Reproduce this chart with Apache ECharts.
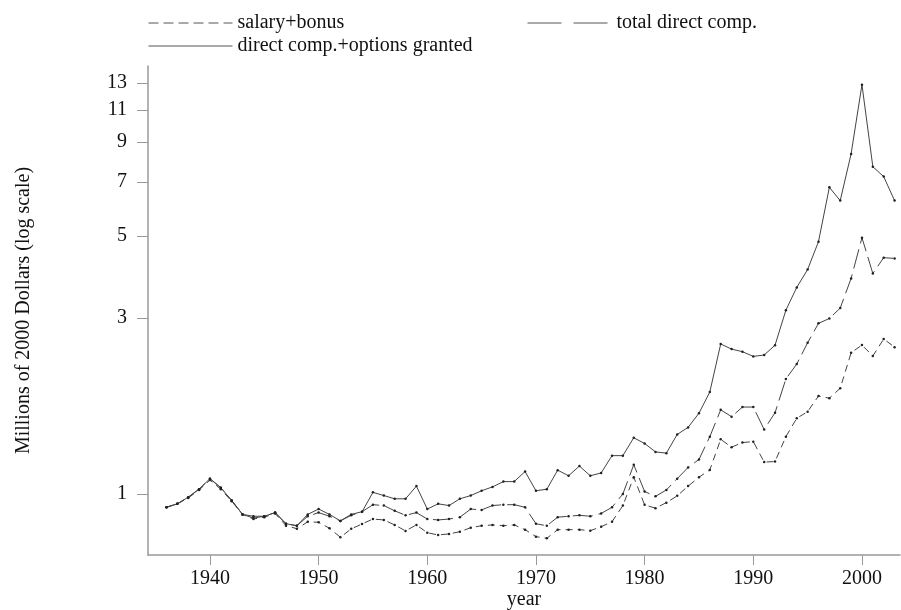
<!DOCTYPE html>
<html>
<head>
<meta charset="utf-8">
<script src="https://cdn.jsdelivr.net/npm/echarts@6/dist/echarts.min.js"></script>
<style>
    html, body {margin: 0; padding: 0; background: #fff;}
    #chart {width: 901px; height: 610px;}
</style>
</head>
<body>
<div id="chart"></div>
<script>
const years = [];
for (let y = 1936; y <= 2003; y++) years.push(y);

// millions of 2000 dollars
const salaryBonus = [
    0.92, 0.94, 0.975, 1.025, 1.09, 1.03, 0.955, 0.88, 0.855, 0.865,
    0.885, 0.82, 0.805, 0.84, 0.838, 0.807, 0.763, 0.804, 0.829, 0.855,
    0.85, 0.824, 0.794, 0.824, 0.785, 0.774, 0.779, 0.79, 0.81, 0.82,
    0.824, 0.82, 0.824, 0.80, 0.766, 0.758, 0.80, 0.80, 0.80, 0.795,
    0.815, 0.841, 0.93, 1.11, 0.934, 0.915, 0.947, 0.988, 1.05, 1.11,
    1.162, 1.406, 1.339, 1.378, 1.386, 1.22, 1.224, 1.43, 1.604, 1.671,
    1.843, 1.818, 1.934, 2.414, 2.533, 2.366, 2.63, 2.5
];
const totalDirect = [
    0.92, 0.94, 0.98, 1.03, 1.10, 1.04, 0.96, 0.88, 0.86, 0.87,
    0.89, 0.83, 0.82, 0.87, 0.89, 0.87, 0.845, 0.875, 0.895, 0.935,
    0.93, 0.90, 0.875, 0.89, 0.855, 0.85, 0.855, 0.865, 0.91, 0.905,
    0.93, 0.935, 0.935, 0.92, 0.83, 0.82, 0.865, 0.87, 0.875, 0.87,
    0.885, 0.92, 1.0, 1.20, 1.015, 0.985, 1.025, 1.10, 1.18, 1.24,
    1.43, 1.69, 1.62, 1.72, 1.72, 1.495, 1.66, 2.05, 2.25, 2.57,
    2.90, 2.99, 3.19, 3.84, 4.95, 3.96, 4.37, 4.35
];
const withOptions = [
    0.92, 0.94, 0.98, 1.03, 1.10, 1.04, 0.96, 0.88, 0.87, 0.87,
    0.89, 0.83, 0.82, 0.88, 0.91, 0.88, 0.845, 0.88, 0.895, 1.01,
    0.99, 0.97, 0.97, 1.05, 0.91, 0.94, 0.93, 0.97, 0.99, 1.02,
    1.045, 1.08, 1.08, 1.15, 1.02, 1.03, 1.16, 1.12, 1.19, 1.12,
    1.14, 1.27, 1.27, 1.42, 1.37, 1.30, 1.29, 1.45, 1.515, 1.655,
    1.89, 2.55, 2.47, 2.43, 2.36, 2.38, 2.53, 3.15, 3.63, 4.06,
    4.83, 6.78, 6.24, 8.35, 12.87, 7.71, 7.25, 6.24
];

const yearTicks = [1940, 1950, 1960, 1970, 1980, 1990, 2000];
const valueTicks = [1, 3, 5, 7, 9, 11, 13];

const serif = "'Liberation Serif', 'Times New Roman', serif";
const ink = '#222';

function pairs(vals){
    return vals.map((v, i) => [years[i], v]);
}

function lineSeries(name, vals, dash){
    return {
        name: name,
        type: 'line',
        data: pairs(vals),
        symbol: 'circle',
        symbolSize: 2.5,
        itemStyle: {color: ink},
        lineStyle: {color: '#444', width: 1, type: dash},
        emphasis: {disabled: true},
        animation: false
    };
}

function legendBox(name, left, top, dash){
    return {
        data: [name],
        left: left,
        top: top,
        padding: 0,
        itemWidth: 84,
        itemHeight: 14,
        itemGap: 5,
        selectedMode: false,
        textStyle: {fontFamily: serif, fontSize: 20, color: '#111'},
        lineStyle: {color: '#555', width: 1, type: dash},
        itemStyle: {opacity: 0}
    };
}

let chart = echarts.init(document.getElementById('chart'), null, {renderer: 'canvas'});
let option = {
    backgroundColor: '#fff',
    animation: false,
    legend: [
        legendBox('salary+bonus', 148, 13, [10, 5]),
        legendBox('total direct comp.', 527, 13, [34, 12]),
        legendBox('direct comp.+options granted', 148, 36, 'solid')
    ],
    grid: {left: 148, right: 1, top: 66, bottom: 55, outerBoundsMode: 'none', containLabel: false},
    xAxis: {
        type: 'value',
        min: 1934.3,
        max: 2003.5,
        name: 'year',
        nameLocation: 'middle',
        nameGap: 35,
        nameMoveOverlap: false,
        nameTextStyle: {fontFamily: serif, fontSize: 20, color: '#111'},
        axisLine: {lineStyle: {color: '#999', width: 1.5}},
        axisTick: {customValues: yearTicks, length: 10, lineStyle: {color: '#999'}},
        axisLabel: {
            customValues: yearTicks,
            formatter: v => String(v),
            margin: 14,
            fontFamily: serif,
            fontSize: 20,
            color: '#111'
        },
        splitLine: {show: false}
    },
    yAxis: {
        type: 'log',
        min: 0.683,
        max: 14.46,
        name: 'Millions of 2000 Dollars (log scale)',
        nameLocation: 'middle',
        nameGap: 114,
        nameMoveOverlap: false,
        nameTextStyle: {fontFamily: serif, fontSize: 20, color: '#111'},
        axisLine: {show: true, lineStyle: {color: '#999', width: 1.5}},
        axisTick: {show: true, customValues: valueTicks, length: 11, lineStyle: {color: '#999'}},
        axisLabel: {
            customValues: valueTicks,
            formatter: v => String(v),
            margin: 21,
            fontFamily: serif,
            fontSize: 20,
            color: '#111'
        },
        minorTick: {show: false},
        splitLine: {show: false}
    },
    series: [
        lineSeries('salary+bonus', salaryBonus, [7, 5]),
        lineSeries('total direct comp.', totalDirect, [20, 6]),
        lineSeries('direct comp.+options granted', withOptions, 'solid')
    ]
};
chart.setOption(option);
</script>
</body>
</html>
